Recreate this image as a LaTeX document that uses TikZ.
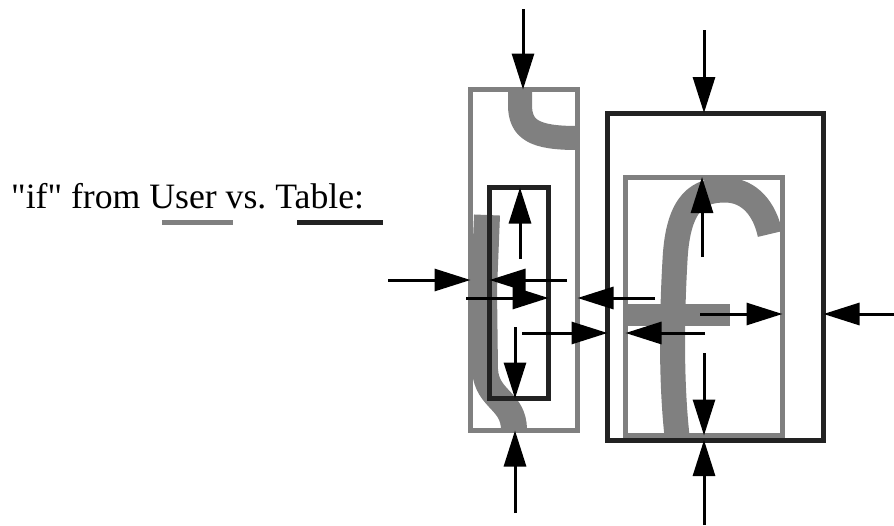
\documentclass[tikz,border=0pt]{standalone}
\usepackage{fontspec}
\setmainfont{Liberation Serif}[Ligatures=TeXOff]
\usetikzlibrary{arrows.meta}
\definecolor{ugray}{HTML}{808080}
\definecolor{tdark}{HTML}{222222}
\begin{document}
\begin{tikzpicture}[x=1pt,y=-1pt,
  ink/.style={draw=ugray,line width=24pt,line cap=butt,line join=round},
  userbox/.style={draw=ugray,line width=5pt,rectangle,inner sep=0pt,outer sep=0pt},
  tablebox/.style={draw=tdark,line width=5pt,rectangle,inner sep=0pt,outer sep=0pt},
  arr/.style={draw=black,line width=3pt,-{Triangle[length=36pt,width=22pt]}},
  label/.style={anchor=base west,inner sep=0pt,font=\fontsize{35.7}{40}\selectfont}]
\useasboundingbox (0,0) rectangle (894,525);
% handwriting strokes
\draw[ink,line width=24pt] (520,90) -- (520,105) .. controls (520,130) and (535,138) .. (577,138);
\draw[ink,line width=26pt] (487,215) -- (484,290) -- (485,370) .. controls (487,400) and (514,400) .. (514,430);
\draw[ink,line width=25pt] (677,436) .. controls (672,390) and (671,330) .. (675,260) .. controls (678,200) and (700,190) .. (725,190) .. controls (750,190) and (765,210) .. (770,234);
\draw[ink,line width=22pt] (628,315) -- (730,315);
% boxes
\node[userbox,minimum width=107pt,minimum height=341pt] (userI) at (524,260) {};
\node[tablebox,minimum width=59pt,minimum height=211pt] (tabI) at (519,293) {};
\node[tablebox,minimum width=216pt,minimum height=327pt] (tabF) at (715.5,276.5) {};
\node[userbox,minimum width=157pt,minimum height=258.5pt] (userF) at (704,306.25) {};
% legend
\node[label] (txt) at (11,208) {"if" from User vs.\ Table:};
\coordinate (ug1) at (162,222.5); \coordinate (ug2) at (233,222.5);
\coordinate (td1) at (297,222.5); \coordinate (td2) at (383,222.5);
\draw[ugray,line width=5pt] (ug1) -- (ug2);
\draw[tdark,line width=5pt] (td1) -- (td2);
% arrow tails
\coordinate (a1) at (523,9);
\coordinate (a2) at (515,513);
\coordinate (a3) at (704,30);
\coordinate (a4) at (704,525);
\coordinate (a5) at (894,314);
\coordinate (a6) at (388,280);
\coordinate (a7) at (567,280);
\coordinate (a8) at (466,298);
\coordinate (a9) at (655,298);
\coordinate (a10) at (522,333);
\coordinate (a11) at (705,333);
\coordinate (a12) at (700,314);
\coordinate (a13) at (702,257);
\coordinate (a14) at (704,353);
\coordinate (a15) at (520,259);
\coordinate (a16) at (515,327);
% arrows
\draw[arr] (a1) -- (a1 |- userI.north);
\draw[arr] (a2) -- (a2 |- userI.south);
\draw[arr] (a3) -- (a3 |- tabF.north);
\draw[arr] (a4) -- (a4 |- tabF.south);
\draw[arr] (a5) -- (a5 -| tabF.east);
\draw[arr] (a6) -- (a6 -| userI.west);
\draw[arr] (a7) -- (a7 -| tabI.west);
\draw[arr] (a8) -- (a8 -| tabI.east);
\draw[arr] (a9) -- (a9 -| userI.east);
\draw[arr] (a10) -- (a10 -| tabF.west);
\draw[arr] (a11) -- (a11 -| userF.west);
\draw[arr] (a12) -- (a12 -| userF.east);
\draw[arr] (a13) -- (a13 |- userF.north);
\draw[arr] (a14) -- (a14 |- userF.south);
\draw[arr] (a15) -- (a15 |- tabI.north);
\draw[arr] (a16) -- (a16 |- tabI.south);
\end{tikzpicture}
\end{document}
